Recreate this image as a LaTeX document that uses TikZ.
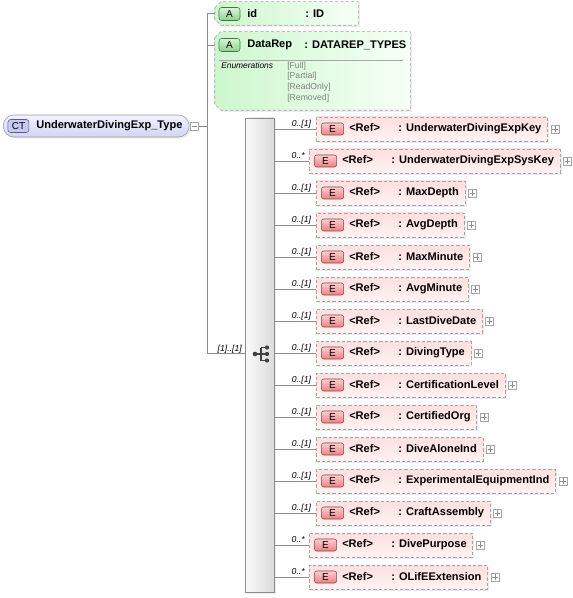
\documentclass[tikz,border=0pt]{standalone}
\usepackage{fontspec}
\setmainfont{Liberation Sans}
\usetikzlibrary{positioning,shadows}
\definecolor{elemtop}{RGB}{255,222,222}
\definecolor{elembot}{RGB}{255,243,243}
\definecolor{ebadgetop}{RGB}{252,205,205}
\definecolor{ebadgebot}{RGB}{236,128,128}
\definecolor{ebadgeline}{RGB}{125,70,70}
\definecolor{attrleft}{RGB}{205,247,205}
\definecolor{attrright}{RGB}{246,255,246}
\definecolor{abadgetop}{RGB}{215,246,215}
\definecolor{abadgebot}{RGB}{140,210,140}
\definecolor{abadgeline}{RGB}{70,115,70}
\definecolor{cttop}{RGB}{242,242,255}
\definecolor{ctbot}{RGB}{212,212,245}
\definecolor{ctbadgefill}{RGB}{200,200,242}
\definecolor{ctbadgeline}{RGB}{90,90,140}

\begin{document}
\begin{tikzpicture}[x=0.75pt,y=0.75pt]
\tikzstyle{every node}+=[inner sep=0pt]
\tikzstyle{link}=[draw=black!45, line width=0.6pt]
\tikzstyle{softshadow}=[drop shadow={opacity=0.15, shadow xshift=1.2pt, shadow yshift=-1.2pt}]
\tikzstyle{elem}=[anchor=west, draw=black!35, dash pattern=on 2.5pt off 1.5pt, top color=elemtop, bottom color=elembot, minimum height=18pt, font=\fontsize{8.3}{10}\selectfont\bfseries, execute at begin node={\hspace*{24.75pt}\makebox[36.75pt][l]{<Ref>}}, execute at end node={\hspace*{4.5pt}}, softshadow]
\tikzstyle{ebadge}=[draw=ebadgeline, rounded corners=1.5pt, top color=ebadgetop, bottom color=ebadgebot, minimum width=16.5pt, minimum height=9pt, font=\fontsize{7.5}{9}\selectfont]
\tikzstyle{plusbox}=[draw=black!35, fill=white, minimum size=6pt, path picture={\draw[black!45] ([xshift=-2pt]path picture bounding box.center) -- ([xshift=2pt]path picture bounding box.center) ([yshift=-2pt]path picture bounding box.center) -- ([yshift=2pt]path picture bounding box.center);}]
\tikzstyle{minusbox}=[draw=black!35, fill=white, minimum size=6pt, path picture={\draw[black!45] ([xshift=-2pt]path picture bounding box.center) -- ([xshift=2pt]path picture bounding box.center);}]
\tikzstyle{mult}=[anchor=base east, font=\fontsize{6.5}{7}\selectfont\itshape]
\tikzstyle{seqbox}=[draw=black!45, left color=black!2, right color=black!14, minimum width=21.75pt, minimum height=355.5pt, softshadow]
\tikzstyle{attrframe}=[rectangle]
\tikzstyle{attrshape}=[draw=black!35, dash pattern=on 2.5pt off 1.5pt, left color=attrleft, right color=attrright, softshadow]
\tikzstyle{abadge}=[draw=abadgeline, rounded corners=2pt, top color=abadgetop, bottom color=abadgebot, minimum width=15.75pt, minimum height=9.75pt, font=\fontsize{7.5}{9}\selectfont]
\tikzstyle{aname}=[anchor=west, font=\fontsize{8.3}{10}\selectfont\bfseries]
\tikzstyle{ctnode}=[anchor=west, draw=black!40, rounded corners=8pt, top color=cttop, bottom color=ctbot, minimum height=16.5pt, font=\fontsize{8.3}{10}\selectfont\bfseries, execute at begin node={\hspace*{24.75pt}}, execute at end node={\hspace*{5pt}}, softshadow]
\tikzstyle{ctbadge}=[draw=ctbadgeline, rounded corners=2pt, fill=ctbadgefill, minimum width=15.75pt, minimum height=9.75pt, font=\fontsize{7.5}{9}\selectfont]
\useasboundingbox (0,0) rectangle (573,-598);

\node[ctnode] (ct) at (3,-126) {UnderwaterDivingExp\_Type};
\node[ctbadge] (ctb) at ([xshift=11.6pt]ct.west) {CT};
\node[minusbox, right=0.75pt of ct] (ctx) {};

\node[attrframe, minimum width=107.25pt, minimum height=17.25pt] (idattr) at (286.5,-13.5) {};
\path[attrshape] ([yshift=-4.5pt]idattr.north west) -- ([xshift=4.5pt]idattr.north west) -- (idattr.north east) -- (idattr.south east) -- ([xshift=4.5pt]idattr.south west) -- ([yshift=4.5pt]idattr.south west) -- cycle;
\node[abadge] (idb) at (229.5,-14) {A};
\node[aname] (idn) at (247,-14) {id};
\node[aname] (idt) at (305,-14) {: ID};

\node[attrframe, minimum width=146.25pt, minimum height=58.5pt] (datarep) at (312.5,-71) {};
\path[attrshape] ([yshift=-4.5pt]datarep.north west) -- ([xshift=4.5pt]datarep.north west) -- (datarep.north east) -- (datarep.south east) -- ([xshift=4.5pt]datarep.south west) -- ([yshift=4.5pt]datarep.south west) -- cycle;
\node[abadge] (drb) at (229.5,-45) {A};
\node[aname] (drn) at (247,-45) {DataRep};
\node[aname] (drt) at (304,-45) {: DATAREP\_TYPES};
\draw[black!35] (219,-60) -- (403,-60);
\node[anchor=west, font=\fontsize{6.3}{7}\selectfont\itshape] (enum) at (221,-66) {Enumerations};
\node[anchor=north west, align=left, text=black!50, font=\fontsize{6.5}{8}\selectfont] (enumvals) at (287,-61.5) {{[Full]}\\{[Partial]}\\{[ReadOnly]}\\{[Removed]}};

\node[seqbox] (seq) at (259.5,-355) {};
\draw[black!75, line width=0.9pt] (255,-354) -- (261,-354) (261,-347.5) -- (261,-360.5) (261,-347.5) -- (267,-347.5) (261,-354) -- (267,-354) (261,-360.5) -- (267,-360.5);
\fill[black!75] (255,-354) circle (2.3);
\fill[black!75] (267,-347.5) circle (2.1) (267,-354) circle (2.1) (267,-360.5) circle (2.1);

\node[elem] (key) at (316,-129) {: UnderwaterDivingExpKey};
\node[ebadge] (keyb) at ([xshift=12.4pt]key.west) {E};
\node[plusbox, right=2.25pt of key] (keyx) {};
\draw[link] (seq.east |- key.west) -- (key.west);
\node[mult] (keym) at ([xshift=-3.5pt,yshift=2pt]key.west) {0..[1]};

\node[elem] (syskey) at (309,-161) {: UnderwaterDivingExpSysKey};
\node[ebadge] (syskeyb) at ([xshift=12.4pt]syskey.west) {E};
\node[plusbox, right=2.25pt of syskey] (syskeyx) {};
\draw[link] (seq.east |- syskey.west) -- (syskey.west);
\node[mult] (syskeym) at ([xshift=-3pt,yshift=2pt]syskey.west) {0..*};

\node[elem] (maxdepth) at (316,-193) {: MaxDepth};
\node[ebadge] (maxdepthb) at ([xshift=12.4pt]maxdepth.west) {E};
\node[plusbox, right=2.25pt of maxdepth] (maxdepthx) {};
\draw[link] (seq.east |- maxdepth.west) -- (maxdepth.west);
\node[mult] (maxdepthm) at ([xshift=-3.5pt,yshift=2pt]maxdepth.west) {0..[1]};

\node[elem] (avgdepth) at (316,-225) {: AvgDepth};
\node[ebadge] (avgdepthb) at ([xshift=12.4pt]avgdepth.west) {E};
\node[plusbox, right=2.25pt of avgdepth] (avgdepthx) {};
\draw[link] (seq.east |- avgdepth.west) -- (avgdepth.west);
\node[mult] (avgdepthm) at ([xshift=-3.5pt,yshift=2pt]avgdepth.west) {0..[1]};

\node[elem] (maxminute) at (316,-257) {: MaxMinute};
\node[ebadge] (maxminuteb) at ([xshift=12.4pt]maxminute.west) {E};
\node[plusbox, right=2.25pt of maxminute] (maxminutex) {};
\draw[link] (seq.east |- maxminute.west) -- (maxminute.west);
\node[mult] (maxminutem) at ([xshift=-3.5pt,yshift=2pt]maxminute.west) {0..[1]};

\node[elem] (avgminute) at (316,-289) {: AvgMinute};
\node[ebadge] (avgminuteb) at ([xshift=12.4pt]avgminute.west) {E};
\node[plusbox, right=2.25pt of avgminute] (avgminutex) {};
\draw[link] (seq.east |- avgminute.west) -- (avgminute.west);
\node[mult] (avgminutem) at ([xshift=-3.5pt,yshift=2pt]avgminute.west) {0..[1]};

\node[elem] (lastdive) at (316,-321) {: LastDiveDate};
\node[ebadge] (lastdiveb) at ([xshift=12.4pt]lastdive.west) {E};
\node[plusbox, right=2.25pt of lastdive] (lastdivex) {};
\draw[link] (seq.east |- lastdive.west) -- (lastdive.west);
\node[mult] (lastdivem) at ([xshift=-3.5pt,yshift=2pt]lastdive.west) {0..[1]};

\node[elem] (divingtype) at (316,-353) {: DivingType};
\node[ebadge] (divingtypeb) at ([xshift=12.4pt]divingtype.west) {E};
\node[plusbox, right=2.25pt of divingtype] (divingtypex) {};
\draw[link] (seq.east |- divingtype.west) -- (divingtype.west);
\node[mult] (divingtypem) at ([xshift=-3.5pt,yshift=2pt]divingtype.west) {0..[1]};

\node[elem] (certlevel) at (316,-385) {: CertificationLevel};
\node[ebadge] (certlevelb) at ([xshift=12.4pt]certlevel.west) {E};
\node[plusbox, right=2.25pt of certlevel] (certlevelx) {};
\draw[link] (seq.east |- certlevel.west) -- (certlevel.west);
\node[mult] (certlevelm) at ([xshift=-3.5pt,yshift=2pt]certlevel.west) {0..[1]};

\node[elem] (certorg) at (316,-417) {: CertifiedOrg};
\node[ebadge] (certorgb) at ([xshift=12.4pt]certorg.west) {E};
\node[plusbox, right=2.25pt of certorg] (certorgx) {};
\draw[link] (seq.east |- certorg.west) -- (certorg.west);
\node[mult] (certorgm) at ([xshift=-3.5pt,yshift=2pt]certorg.west) {0..[1]};

\node[elem] (divealone) at (316,-449) {: DiveAloneInd};
\node[ebadge] (divealoneb) at ([xshift=12.4pt]divealone.west) {E};
\node[plusbox, right=2.25pt of divealone] (divealonex) {};
\draw[link] (seq.east |- divealone.west) -- (divealone.west);
\node[mult] (divealonem) at ([xshift=-3.5pt,yshift=2pt]divealone.west) {0..[1]};

\node[elem] (expequip) at (316,-481) {: ExperimentalEquipmentInd};
\node[ebadge] (expequipb) at ([xshift=12.4pt]expequip.west) {E};
\node[plusbox, right=2.25pt of expequip] (expequipx) {};
\draw[link] (seq.east |- expequip.west) -- (expequip.west);
\node[mult] (expequipm) at ([xshift=-3.5pt,yshift=2pt]expequip.west) {0..[1]};

\node[elem] (craft) at (316,-513) {: CraftAssembly};
\node[ebadge] (craftb) at ([xshift=12.4pt]craft.west) {E};
\node[plusbox, right=2.25pt of craft] (craftx) {};
\draw[link] (seq.east |- craft.west) -- (craft.west);
\node[mult] (craftm) at ([xshift=-3.5pt,yshift=2pt]craft.west) {0..[1]};

\node[elem] (purpose) at (309,-545) {: DivePurpose};
\node[ebadge] (purposeb) at ([xshift=12.4pt]purpose.west) {E};
\node[plusbox, right=2.25pt of purpose] (purposex) {};
\draw[link] (seq.east |- purpose.west) -- (purpose.west);
\node[mult] (purposem) at ([xshift=-3pt,yshift=2pt]purpose.west) {0..*};

\node[elem] (olife) at (309,-577) {: OLifEExtension};
\node[ebadge] (olifeb) at ([xshift=12.4pt]olife.west) {E};
\node[plusbox, right=2.25pt of olife] (olifex) {};
\draw[link] (seq.east |- olife.west) -- (olife.west);
\node[mult] (olifem) at ([xshift=-3pt,yshift=2pt]olife.west) {0..*};

\coordinate (hub) at (207,-126);
\draw[link] (ctx.east) -- (hub);
\draw[link] (hub |- idattr.west) -- (hub |- divingtype.west);
\draw[link] (hub |- idattr.west) -- (idattr.west);
\draw[link] (hub |- drb) -- (drb -| datarep.west);
\draw[link] (hub |- divingtype.west) -- (seq.west |- divingtype.west);
\node[mult] (seqm) at (242,-351) {[1]..[1]};
\end{tikzpicture}
\end{document}
